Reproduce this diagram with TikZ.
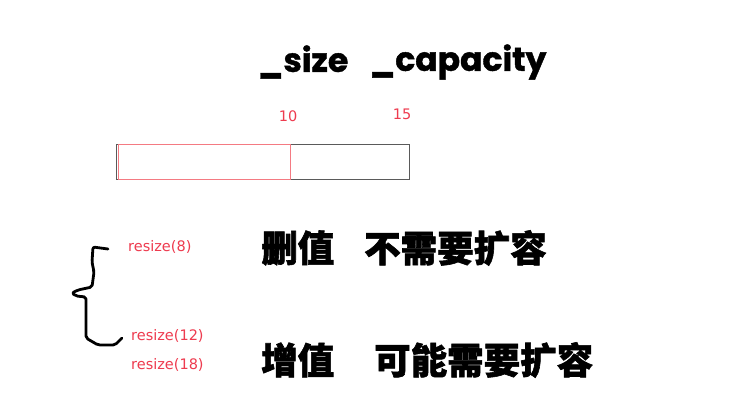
\documentclass[tikz,border=0pt]{standalone}
\usepackage{fontspec}
\usepackage{tikz}
\usetikzlibrary{positioning}
\setmainfont{Poppins}[BoldFeatures={FakeBold=1.2}]
\newfontfamily\cjk{Noto Sans CJK SC}[BoldFeatures={FakeBold=1.6}]
\newfontfamily\redfont{DejaVu Sans}
\definecolor{cred}{HTML}{EE3B4F}
\definecolor{cgray}{HTML}{5A5A5A}
\definecolor{cpink}{HTML}{F47A82}

\begin{document}
\begin{tikzpicture}[x=1pt, y=-1pt,
  heading/.style={font=\fontsize{33}{33}\selectfont\bfseries, inner sep=0pt},
  num/.style={font=\redfont\fontsize{14.5}{14.5}\selectfont, text=cred, inner sep=0pt},
  call/.style={font=\redfont\fontsize{14.5}{14.5}\selectfont, text=cred, inner sep=0pt, anchor=west},
  note/.style={font=\cjk\fontsize{36.5}{36.5}\selectfont\bfseries, inner sep=0pt, anchor=west}]
  \useasboundingbox[fill=white] (0,0) rectangle (749,414);

  % member names
  \node[heading] (size) at (303,62) {\_size};
  \node[heading] (cap) at (458,62) {\_capacity};

  % buffer with used part
  \draw[cgray] (116,144) rectangle (409,179);
  \draw[cpink] (118,144) rectangle (290,179);
  \node[num] (ten) at (288,116) {10};
  \node[num] (fift) at (402,114) {15};

  % resize calls
  \node[call] (r8) at (128,247) {resize(8)};
  \node[call] (r12) at (131,336) {resize(12)};
  \node[call] (r18) at (131,365) {resize(18)};
  \draw[line width=2.8pt, line cap=round, line join=round, rounded corners=2pt]
    (108,249) -- (93,247) -- (92,262) -- (94,272) -- (92,287) -- (78,290)
    -- (72,293) -- (76,296) -- (86,297) -- (86,338) -- (98,345) -- (115,345) -- (122,338);

  % remarks
  \node[note] (del) at (261,248) {删值};
  \node[note] (delr) at (364,248) {不需要扩容};
  \node[note] (add) at (261,360) {增值};
  \node[note] (addr) at (374,360) {可能需要扩容};
\end{tikzpicture}
\end{document}
